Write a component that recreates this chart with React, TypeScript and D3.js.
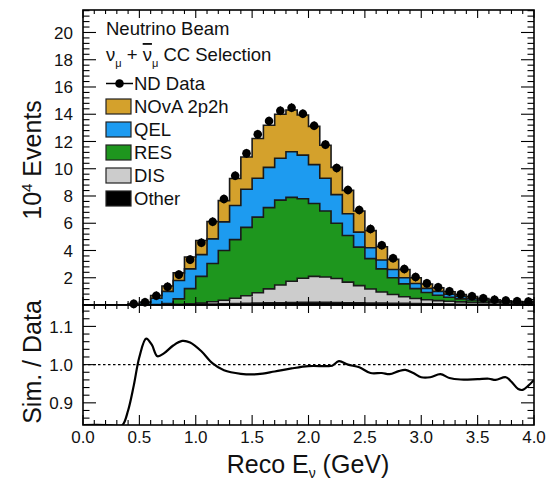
import React from 'react';
import * as d3 from 'd3';

// ---------- data ----------
const binLow = [0.0,0.1,0.2,0.3,0.4,0.5,0.6,0.7,0.8,0.9,1.0,1.1,1.2,1.3,1.4,1.5,1.6,1.7,1.8,1.9,
  2.0,2.1,2.2,2.3,2.4,2.5,2.6,2.7,2.8,2.9,3.0,3.1,3.2,3.3,3.4,3.5,3.6,3.7,3.8,3.9];
const BIN_W = 0.1;

// units of 10^4 events
const ndData = [0,0,0,0,0.08,0.2,0.68,1.34,2.23,3.33,4.57,6.11,7.78,9.49,11.13,12.53,13.5,14.26,14.48,14.04,
  13.16,11.77,10.05,8.44,6.97,5.58,4.38,3.43,2.64,2.05,1.59,1.3,1.0,0.79,0.64,0.49,0.39,0.32,0.27,0.25];

const other = [0,0,0,0,0,0,0.01,0.01,0.02,0.03,0.05,0.07,0.09,0.11,0.13,0.15,0.16,0.17,0.18,0.19,
  0.19,0.19,0.18,0.17,0.16,0.15,0.14,0.13,0.12,0.1,0.09,0.08,0.07,0.06,0.05,0.05,0.04,0.04,0.03,0.03];
const dis = [0,0,0,0,0,0,0,0.01,0.03,0.05,0.09,0.17,0.26,0.39,0.55,0.75,1.02,1.3,1.56,1.77,
  1.91,1.87,1.77,1.51,1.26,1.02,0.81,0.64,0.48,0.38,0.3,0.24,0.2,0.17,0.15,0.13,0.12,0.11,0.11,0.1];
const res = [0,0,0,0,0,0.01,0.02,0.08,0.4,1.12,1.96,2.81,3.65,4.3,5.02,5.55,5.97,6.23,6.16,5.84,
  5.35,4.84,4.05,3.42,2.83,2.23,1.7,1.23,0.95,0.72,0.53,0.4,0.3,0.22,0.17,0.13,0.11,0.09,0.07,0.07];
const qel = [0,0,0,0,0.05,0.14,0.47,0.9,1.35,1.45,1.6,1.8,2.1,2.5,2.8,2.85,2.95,3.07,3.35,3.2,
  2.85,2.4,2.1,1.6,1.1,0.8,0.65,0.6,0.45,0.38,0.3,0.28,0.23,0.18,0.13,0.09,0.06,0.04,0.03,0.01];
const npnh = [0,0,0,0.01,0.02,0.06,0.2,0.39,0.56,0.87,1.03,1.28,1.56,1.98,2.36,2.92,3.09,3.23,3.06,2.94,
  2.81,2.42,2.0,1.71,1.55,1.26,0.98,0.75,0.6,0.42,0.32,0.26,0.17,0.13,0.12,0.07,0.05,0.03,0.02,0.02];

// Sim / Data ratio curve
const ratioE = [0.0,0.2,0.3,0.35,0.4,0.45,0.5,0.56,0.61,0.66,0.72,0.8,0.88,0.95,1.05,1.15,1.25,1.4,1.55,1.7,
  1.85,2.0,2.15,2.21,2.27,2.35,2.45,2.55,2.65,2.72,2.8,2.86,2.93,3.0,3.08,3.17,3.25,3.35,3.5,3.6,
  3.66,3.75,3.8,3.86,3.9,3.95,4.0];
const ratioV = [0.842,0.842,0.84,0.842,0.88,0.945,1.02,1.068,1.052,1.022,1.03,1.05,1.062,1.058,1.035,1.003,0.985,0.976,0.975,0.982,
  0.99,0.996,0.996,0.997,1.009,1.0,0.993,0.978,0.978,0.975,0.983,0.986,0.978,0.967,0.967,0.975,0.965,0.961,0.962,0.963,
  0.96,0.967,0.955,0.936,0.934,0.945,0.96];

const yTicksTop = [2,4,6,8,10,12,14,16,18,20];
const yTicksRatio = [0.9,1.0,1.1];
const xTicks = [0.0,0.5,1.0,1.5,2.0,2.5,3.0,3.5,4.0];

const layerKeys = ['other','dis','res','qel','npnh'];
const layerColors = { other: '#000000', dis: '#cccccc', res: '#1e961e', qel: '#1d9bf0', npnh: '#d4a12c' };
const legendItems = [
  { key: 'npnh', label: 'NOvA 2p2h' },
  { key: 'qel', label: 'QEL' },
  { key: 'res', label: 'RES' },
  { key: 'dis', label: 'DIS' },
  { key: 'other', label: 'Other' },
];

const FONT = '"Liberation Sans", Arial, Helvetica, sans-serif';

export default function App() {
  const W = 548, H = 481;
  const L = 83, R = 534, T = 10, MID = 305, B = 425;

  const x = d3.scaleLinear().domain([0, 4]).range([L, R]);
  const y = d3.scaleLinear().domain([0, 21.65]).range([MID, T]);
  const yr = d3.scaleLinear().domain([0.842, 1.156]).range([B, MID]);

  const table = binLow.map((b, i) => ({
    lo: b, other: other[i], dis: dis[i], res: res[i], qel: qel[i], npnh: npnh[i],
  }));
  const series = d3.stack<any>().keys(layerKeys)(table);

  const stepPts = (s: any) => {
    const pts: { e: number; y0: number; y1: number }[] = [];
    s.forEach((d: any) => {
      const lo = d.data.lo;
      pts.push({ e: lo, y0: d[0], y1: d[1] });
      pts.push({ e: lo + BIN_W, y0: d[0], y1: d[1] });
    });
    return pts;
  };
  const area = d3.area<any>().x((d) => x(d.e)).y0((d) => y(d.y0)).y1((d) => y(d.y1));
  const line = d3.line<any>().x((d) => x(d.e)).y((d) => y(d.y1));

  const ratioPts = ratioE.map((e, i) => [x(e), yr(ratioV[i])] as [number, number]);
  const ratioLine = d3.line().curve(d3.curveCatmullRom.alpha(0.5));

  const minorTop = d3.range(0, 21.65, 0.4);
  const minorRatio = d3.range(0.86, 1.157, 0.02);
  const minorX = d3.range(0, 4.0001, 0.1);

  const tickStroke = { stroke: '#000', strokeWidth: 1.1 };
  const tickFont = 17;
  const legFont = 18.5;

  return (
    <svg width={W} height={H} style={{ position: 'absolute', left: 0, top: 0, background: '#fff' }}
      fontFamily={FONT}>
      <defs>
        <clipPath id="clipTop"><rect x={L} y={T} width={R - L} height={MID - T} /></clipPath>
        <clipPath id="clipBot"><rect x={L} y={MID} width={R - L} height={B - MID} /></clipPath>
      </defs>
      <rect x={0} y={0} width={W} height={H} fill="#fff" />

      {/* stacked histogram */}
      <g clipPath="url(#clipTop)">
        {series.map((s: any) => (
          <path key={s.key} d={area(stepPts(s)) || ''} fill={(layerColors as any)[s.key]} />
        ))}
        {series.map((s: any) => (
          <path key={s.key + 'l'} d={line(stepPts(s)) || ''} fill="none" stroke="#1a1a1a" strokeWidth={1.6} />
        ))}
      </g>

      {/* data points */}
      {binLow.map((b, i) => ndData[i] > 0 ? (
        <g key={'d' + i}>
          <line x1={x(b + BIN_W / 2)} x2={x(b + BIN_W / 2)} y1={y(ndData[i]) - 4.5} y2={y(ndData[i]) + 4.5} stroke="#000" strokeWidth={1} />
          <circle cx={x(b + BIN_W / 2)} cy={y(ndData[i])} r={4.3} fill="#000" />
        </g>
      ) : null)}

      {/* ratio panel */}
      <line x1={L} x2={R} y1={yr(1)} y2={yr(1)} stroke="#000" strokeWidth={1.2} strokeDasharray="2.5,2.5" />
      <g clipPath="url(#clipBot)">
        <path d={ratioLine(ratioPts) || ''} fill="none" stroke="#000" strokeWidth={2.2} />
      </g>

      {/* ticks: top panel y */}
      {minorTop.map((v) => {
        const major = Math.abs(v / 2 - Math.round(v / 2)) < 1e-6;
        const len = major ? 13 : 6.5;
        return (
          <g key={'yt' + v}>
            <line x1={L} x2={L + len} y1={y(v)} y2={y(v)} {...tickStroke} />
            <line x1={R} x2={R - len} y1={y(v)} y2={y(v)} {...tickStroke} />
          </g>
        );
      })}
      {/* ticks: ratio y */}
      {minorRatio.map((v) => {
        const major = yTicksRatio.some((t) => Math.abs(t - v) < 1e-6);
        const len = major ? 13 : 6.5;
        return (
          <g key={'yr' + v}>
            <line x1={L} x2={L + len} y1={yr(v)} y2={yr(v)} {...tickStroke} />
            <line x1={R} x2={R - len} y1={yr(v)} y2={yr(v)} {...tickStroke} />
          </g>
        );
      })}
      {/* ticks: x axes */}
      {minorX.map((v) => {
        const major = xTicks.some((t) => Math.abs(t - v) < 1e-6);
        const lt = major ? 8 : 4;
        const lb = major ? 10 : 5;
        const xv = x(v);
        return (
          <g key={'xt' + v}>
            <line x1={xv} x2={xv} y1={T} y2={T + lt} {...tickStroke} />
            <line x1={xv} x2={xv} y1={MID} y2={MID - lt} {...tickStroke} />
            <line x1={xv} x2={xv} y1={MID} y2={MID + lb * 0.8} {...tickStroke} />
            <line x1={xv} x2={xv} y1={B} y2={B - lb} {...tickStroke} />
          </g>
        );
      })}

      {/* frames */}
      <rect x={L} y={T} width={R - L} height={MID - T} fill="none" stroke="#000" strokeWidth={1.6} />
      <rect x={L} y={MID} width={R - L} height={B - MID} fill="none" stroke="#000" strokeWidth={1.6} />

      {/* tick labels */}
      {yTicksTop.map((v) => (
        <text key={'ytl' + v} x={73} y={y(v)} dy="0.36em" textAnchor="end" fontSize={tickFont} fill="#111">{v}</text>
      ))}
      {yTicksRatio.map((v) => (
        <text key={'yrl' + v} x={73} y={yr(v)} dy="0.36em" textAnchor="end" fontSize={tickFont} fill="#111">{v.toFixed(1)}</text>
      ))}
      {xTicks.map((v) => (
        <text key={'xl' + v} x={x(v)} y={443} textAnchor="middle" fontSize={tickFont} fill="#111">{v.toFixed(1)}</text>
      ))}

      {/* axis titles */}
      <text x={308} y={473} textAnchor="middle" fontSize={25} fill="#111">
        Reco E<tspan dy={5} fontSize={14}>ν</tspan><tspan dy={-5}> (GeV)</tspan>
      </text>
      <text transform={`translate(41,362) rotate(-90)`} textAnchor="middle" fontSize={25} fill="#111">Sim. / Data</text>
      <text transform={`translate(41,160) rotate(-90)`} textAnchor="middle" fontSize={25} fill="#111">
        10<tspan dy={-9} fontSize={15}>4</tspan><tspan dy={9}> Events</tspan>
      </text>

      {/* legend */}
      <text x={106} y={35} fontSize={legFont} fill="#111">Neutrino Beam</text>
      <text x={106} y={61} fontSize={legFont} fill="#111">
        ν<tspan dy={6} fontSize={11}>μ</tspan><tspan dy={-6}> + </tspan>
        <tspan style={{ textDecoration: 'overline' }}>ν</tspan><tspan dy={6} fontSize={11}>μ</tspan>
        <tspan dy={-6}> CC Selection</tspan>
      </text>
      <g>
        <line x1={106} x2={133} y1={83.5} y2={83.5} stroke="#000" strokeWidth={1.5} />
        <circle cx={119.5} cy={83.5} r={4.3} fill="#000" />
        <text x={134} y={83.5} dy="0.36em" fontSize={legFont} fill="#111">ND Data</text>
      </g>
      {legendItems.map((it, i) => {
        const cy = 106.5 + i * 23;
        return (
          <g key={it.key}>
            <rect x={106} y={cy - 7.5} width={25} height={15} fill={(layerColors as any)[it.key]} stroke="#222" strokeWidth={1.2} />
            <text x={134} y={cy} dy="0.36em" fontSize={legFont} fill="#111">{it.label}</text>
          </g>
        );
      })}
    </svg>
  );
}
